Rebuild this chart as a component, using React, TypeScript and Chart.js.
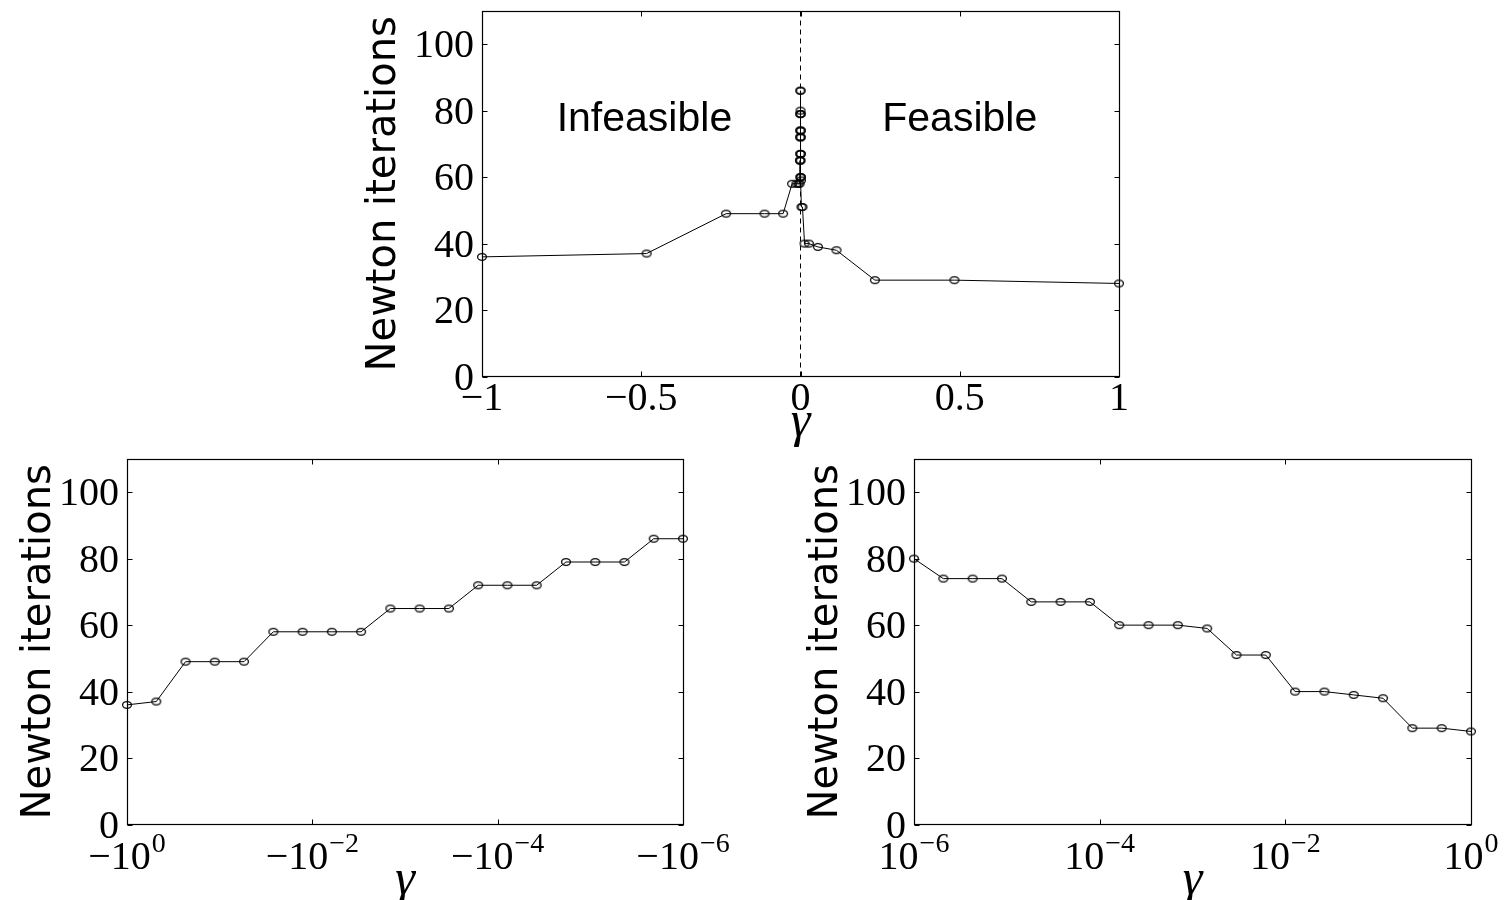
import React, { useEffect, useRef } from 'react';
import { Chart, registerables } from 'chart.js';

Chart.register(...registerables);

// ---------------- data ----------------
const gammaNegative = [
  -1, -0.4833, -0.23357, -0.11288, -0.054556, -0.026367, -0.012743, -0.0061585,
  -0.0029764, -0.0014384, -0.00069519, -0.00033598, -0.00016238, -0.000078476,
  -0.000037927, -0.00001833, -0.0000088587, -0.0000042813, -0.0000020691, -0.000001,
];
const iterationsNegative = [36, 37, 49, 49, 49, 58, 58, 58, 58, 65, 65, 65, 72, 72, 72, 79, 79, 79, 86, 86];

const gammaPositive = [
  0.000001, 0.0000020691, 0.0000042813, 0.0000088587, 0.00001833, 0.000037927,
  0.000078476, 0.00016238, 0.00033598, 0.00069519, 0.0014384, 0.0029764,
  0.0061585, 0.012743, 0.026367, 0.054556, 0.11288, 0.23357, 0.4833, 1,
];
const iterationsPositive = [80, 74, 74, 74, 67, 67, 67, 60, 60, 60, 59, 51, 51, 40, 40, 39, 38, 29, 29, 28];

const yTickValues = [0, 20, 40, 60, 80, 100];
const yTickLabels = ['0', '20', '40', '60', '80', '100'];

const linearXTickValues = [-1, -0.5, 0, 0.5, 1];
const linearXTickLabels = [['−1'], ['−0.5'], ['0'], ['0.5'], ['1']];

const negLogTickMagnitudes = [1, 1e-2, 1e-4, 1e-6];
const negLogTickLabels = [['−10', '0'], ['−10', '−2'], ['−10', '−4'], ['−10', '−6']];

const posLogTickValues = [1e-6, 1e-4, 1e-2, 1];
const posLogTickLabels = [['10', '−6'], ['10', '−4'], ['10', '−2'], ['10', '0']];

const regionLabels = ['Infeasible', 'Feasible'];
const regionLabelGamma = [-0.49, 0.5];
const regionLabelIterations = 74;

const boundaryGamma = [0, 0];
const boundaryIterations = [0, 110];

const yAxisTitle = 'Newton iterations';
const xAxisTitle = 'γ';

// ---------------- helpers ----------------
const TICK_FONT = '"Liberation Serif"';

function makeMarker() {
  const c = document.createElement('canvas');
  c.width = 12;
  c.height = 10;
  const g = c.getContext('2d')!;
  g.strokeStyle = '#000';
  g.lineWidth = 1.25;
  g.beginPath();
  g.ellipse(6, 5, 4.4, 3.4, 0, 0, Math.PI * 2);
  g.stroke();
  return c;
}

type DecorCfg = {
  xTickValues: number[];
  xTickLabels: string[][];
  labelOffset: number;
  texts?: { text: string; x: number; y: number }[];
};

function makeDecor(cfg: DecorCfg) {
  return {
    id: 'decor',
    afterDraw(chart: any) {
      const { ctx, chartArea: a, scales } = chart;
      const xs = scales.x;
      const ys = scales.y;
      const L = Math.floor(a.left) + 0.5;
      const R = Math.floor(a.right) + 0.5;
      const T = Math.floor(a.top) + 0.5;
      const B = Math.floor(a.bottom) + 0.5;
      ctx.save();
      ctx.strokeStyle = '#000';
      ctx.lineWidth = 1.2;
      ctx.strokeRect(L, T, R - L, B - T);
      ctx.lineWidth = 1;
      ctx.beginPath();
      const tl = 5;
      yTickValues.forEach((v) => {
        const py = Math.round(ys.getPixelForValue(v)) + 0.5;
        ctx.moveTo(L, py);
        ctx.lineTo(L + tl, py);
        ctx.moveTo(R, py);
        ctx.lineTo(R - tl, py);
      });
      cfg.xTickValues.forEach((v) => {
        const px = Math.round(xs.getPixelForValue(v)) + 0.5;
        ctx.moveTo(px, B);
        ctx.lineTo(px, B - tl);
        ctx.moveTo(px, T);
        ctx.lineTo(px, T + tl);
      });
      ctx.stroke();

      ctx.fillStyle = '#000';
      ctx.textBaseline = 'alphabetic';
      // y tick labels
      ctx.font = `40px ${TICK_FONT}`;
      ctx.textAlign = 'right';
      yTickValues.forEach((v, i) => {
        const py = ys.getPixelForValue(v);
        ctx.fillText(yTickLabels[i], a.left - 8, py + 13);
      });
      // x tick labels
      ctx.textAlign = 'left';
      cfg.xTickValues.forEach((v, i) => {
        const px = xs.getPixelForValue(v);
        const [base, exp] = cfg.xTickLabels[i];
        ctx.font = `40px ${TICK_FONT}`;
        const wb = ctx.measureText(base).width;
        let we = 0;
        if (exp) {
          ctx.font = `28px ${TICK_FONT}`;
          we = ctx.measureText(exp).width + 1;
        }
        const start = px - (wb + we) / 2;
        const baseY = a.bottom + cfg.labelOffset;
        ctx.font = `40px ${TICK_FONT}`;
        ctx.fillText(base, start, baseY);
        if (exp) {
          ctx.font = `28px ${TICK_FONT}`;
          ctx.fillText(exp, start + wb + 1, baseY - 17);
        }
      });
      // region annotations
      if (cfg.texts) {
        ctx.font = '41px "Liberation Sans"';
        ctx.textAlign = 'center';
        cfg.texts.forEach((t) => {
          ctx.fillText(t.text, xs.getPixelForValue(t.x), ys.getPixelForValue(t.y));
        });
      }
      ctx.restore();
    },
  };
}

function yScale(width: number, titlePad: number) {
  return {
    type: 'linear',
    min: 0,
    max: 110,
    grid: { display: false, drawTicks: false },
    border: { display: false },
    ticks: { display: false },
    afterBuildTicks: (s: any) => {
      s.ticks = yTickValues.map((v) => ({ value: v }));
    },
    afterFit: (s: any) => {
      s.width = width;
      s.paddingTop = 0;
      s.paddingBottom = 0;
      s.paddingLeft = 0;
      s.paddingRight = 0;
    },
    title: {
      display: true,
      text: yAxisTitle,
      color: '#000',
      font: { family: 'DejaVu Sans', size: 40, lineHeight: 1.2 },
      padding: { top: titlePad, bottom: 0 },
    },
  };
}

function xScale(extra: any, height: number, titlePad: number) {
  return {
    ...extra,
    grid: { display: false, drawTicks: false },
    border: { display: false },
    ticks: { display: false },
    afterFit: (s: any) => {
      s.height = height;
      s.paddingTop = 0;
      s.paddingBottom = 0;
      s.paddingLeft = 0;
      s.paddingRight = 0;
    },
    title: {
      display: true,
      text: xAxisTitle,
      color: '#000',
      font: { family: 'Liberation Serif', size: 50, style: 'italic', lineHeight: 1.2 },
      padding: { top: 0, bottom: titlePad },
    },
  };
}

function seriesStyle(marker: HTMLCanvasElement) {
  return {
    borderColor: '#000',
    borderWidth: 1,
    backgroundColor: 'rgba(0,0,0,0)',
    pointStyle: marker,
    pointRadius: 4,
    pointBorderWidth: 0,
    tension: 0,
    clip: false as any,
  };
}

function baseOptions(padding: any, scales: any) {
  return {
    responsive: false,
    animation: false,
    events: [],
    layout: { padding },
    plugins: { legend: { display: false }, tooltip: { enabled: false }, title: { display: false } },
    scales,
  };
}

function buildTop() {
  const marker = makeMarker();
  const points = [
    ...gammaNegative.map((g, i) => ({ x: g, y: iterationsNegative[i] })),
    ...gammaPositive.map((g, i) => ({ x: g, y: iterationsPositive[i] })),
  ];
  const boundary = boundaryGamma.map((g, i) => ({ x: g, y: boundaryIterations[i] }));
  return {
    type: 'line',
    data: {
      datasets: [
        {
          data: boundary,
          borderColor: '#000',
          borderWidth: 1,
          borderDash: [5, 4],
          pointRadius: 0,
          clip: false,
        },
        { data: points, ...seriesStyle(marker) },
      ],
    },
    options: baseOptions(
      { left: 0, top: 11, right: 21, bottom: 0 },
      {
        x: xScale({ type: 'linear', min: -1, max: 1 }, 83.5, 7),
        y: yScale(142, 20.5),
      }
    ),
    plugins: [
      makeDecor({
        xTickValues: linearXTickValues,
        xTickLabels: linearXTickLabels,
        labelOffset: 33.5,
        texts: regionLabels.map((t, i) => ({ text: t, x: regionLabelGamma[i], y: regionLabelIterations })),
      }),
    ],
  };
}

function buildNeg() {
  const marker = makeMarker();
  const points = gammaNegative.map((g, i) => ({ x: Math.abs(g), y: iterationsNegative[i] }));
  return {
    type: 'line',
    data: { datasets: [{ data: points, ...seriesStyle(marker) }] },
    options: baseOptions(
      { left: 0, top: 19, right: 77, bottom: 0 },
      {
        x: xScale({ type: 'logarithmic', min: 1e-6, max: 1, reverse: true }, 95.5, 9),
        y: yScale(127, 15.5),
      }
    ),
    plugins: [
      makeDecor({ xTickValues: negLogTickMagnitudes, xTickLabels: negLogTickLabels, labelOffset: 44 }),
    ],
  };
}

function buildPos() {
  const marker = makeMarker();
  const points = gammaPositive.map((g, i) => ({ x: g, y: iterationsPositive[i] }));
  return {
    type: 'line',
    data: { datasets: [{ data: points, ...seriesStyle(marker) }] },
    options: baseOptions(
      { left: 0, top: 19, right: 35, bottom: 0 },
      {
        x: xScale({ type: 'logarithmic', min: 1e-6, max: 1 }, 95.5, 9),
        y: yScale(134, 22.5),
      }
    ),
    plugins: [
      makeDecor({ xTickValues: posLogTickValues, xTickLabels: posLogTickLabels, labelOffset: 44 }),
    ],
  };
}

function Panel(props: { left: number; top: number; width: number; height: number; build: () => any }) {
  const ref = useRef<HTMLCanvasElement>(null);
  useEffect(() => {
    const chart = new Chart(ref.current as HTMLCanvasElement, props.build());
    return () => chart.destroy();
  }, []);
  return (
    <canvas
      ref={ref}
      width={props.width}
      height={props.height}
      style={{ position: 'absolute', left: props.left, top: props.top, width: props.width, height: props.height }}
    />
  );
}

export default function App() {
  return (
    <div
      style={{
        position: 'fixed',
        left: 0,
        top: 0,
        width: 1506,
        height: 900,
        background: '#fff',
        overflow: 'hidden',
      }}
    >
      <Panel left={340} top={0} width={800} height={460} build={buildTop} />
      <Panel left={0} top={440} width={760} height={480} build={buildNeg} />
      <Panel left={780} top={440} width={726} height={480} build={buildPos} />
    </div>
  );
}
